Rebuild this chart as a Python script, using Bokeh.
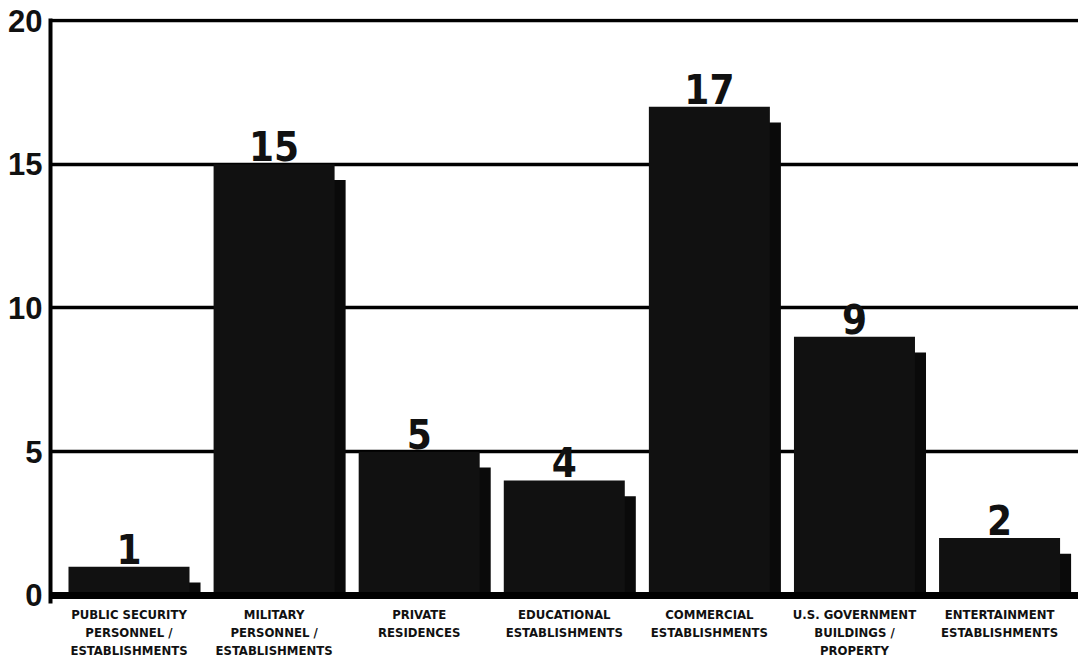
import numpy as np
from bokeh.plotting import figure
from bokeh.models import Range1d, FixedTicker, Span
from bokeh.core.properties import value
from bokeh.embed import file_html
from bokeh.resources import INLINE

categories = [
    "PUBLIC SECURITY\nPERSONNEL /\nESTABLISHMENTS",
    "MILITARY\nPERSONNEL /\nESTABLISHMENTS",
    "PRIVATE\nRESIDENCES",
    "EDUCATIONAL\nESTABLISHMENTS",
    "COMMERCIAL\nESTABLISHMENTS",
    "U.S. GOVERNMENT\nBUILDINGS /\nPROPERTY",
    "ENTERTAINMENT\nESTABLISHMENTS",
]
counts = [1, 15, 5, 4, 17, 9, 2]
y_ticks = [0, 5, 10, 15, 20]
grid_ticks = [5, 10, 15, 20]

NARROW = "DejaVu Sans Condensed, Liberation Sans Narrow, sans-serif"

x = np.arange(len(categories))
vals = np.array(counts, dtype=float)

p = figure(width=1078, height=660, output_backend="svg", toolbar_location=None,
           x_range=Range1d(-0.541, 6.544), y_range=Range1d(-0.28, 20.07),
           min_border_left=50, min_border_right=0, min_border_top=18, min_border_bottom=56)
p.outline_line_color = None
p.background_fill_color = "white"
p.border_fill_color = "white"

# grid
p.xgrid.visible = False
p.ygrid.ticker = FixedTicker(ticks=grid_ticks)
p.ygrid.grid_line_color = "black"
p.ygrid.grid_line_width = 3.5
p.ygrid.grid_line_alpha = 1.0

# shadow bars
bw = 0.834
p.quad(left=x - bw / 2 + 0.05, right=x + bw / 2 + 0.076, bottom=0, top=vals - 0.55,
       fill_color="#0a0a0a", line_color=None)
# front bars
p.vbar(x=x, width=bw, top=vals, bottom=0, fill_color="#111111", line_color=None)

# value labels
p.text(x=x, y=vals, text=[str(v) for v in counts], text_align="center",
       text_baseline="bottom", y_offset=-3,
       text_font=value(NARROW), text_font_style="bold",
       text_font_size="40px", text_color="#111111")

# baseline
p.add_layout(Span(location=0, dimension="width", line_color="black", line_width=7))

# y axis
p.yaxis.ticker = FixedTicker(ticks=y_ticks)
p.yaxis.axis_line_width = 4
p.yaxis.axis_line_color = "black"
p.yaxis.major_tick_line_color = None
p.yaxis.minor_tick_line_color = None
p.yaxis.major_label_standoff = 2
p.yaxis.major_label_text_font = "Liberation Sans"
p.yaxis.major_label_text_font_style = "bold"
p.yaxis.major_label_text_font_size = "31px"
p.yaxis.major_label_text_color = "#111111"

# x axis
p.xaxis.ticker = FixedTicker(ticks=list(range(len(categories))))
p.xaxis.major_label_overrides = {i: c for i, c in enumerate(categories)}
p.xaxis.axis_line_color = None
p.xaxis.major_tick_line_color = None
p.xaxis.minor_tick_line_color = None
p.xaxis.major_label_standoff = -3
p.xaxis.major_label_text_font = NARROW
p.xaxis.major_label_text_font_style = "bold"
p.xaxis.major_label_text_font_size = "13px"
p.xaxis.major_label_text_color = "#111111"
p.xaxis.major_label_text_line_height = 1.2

open("out.html", "w").write(file_html(p, INLINE))
